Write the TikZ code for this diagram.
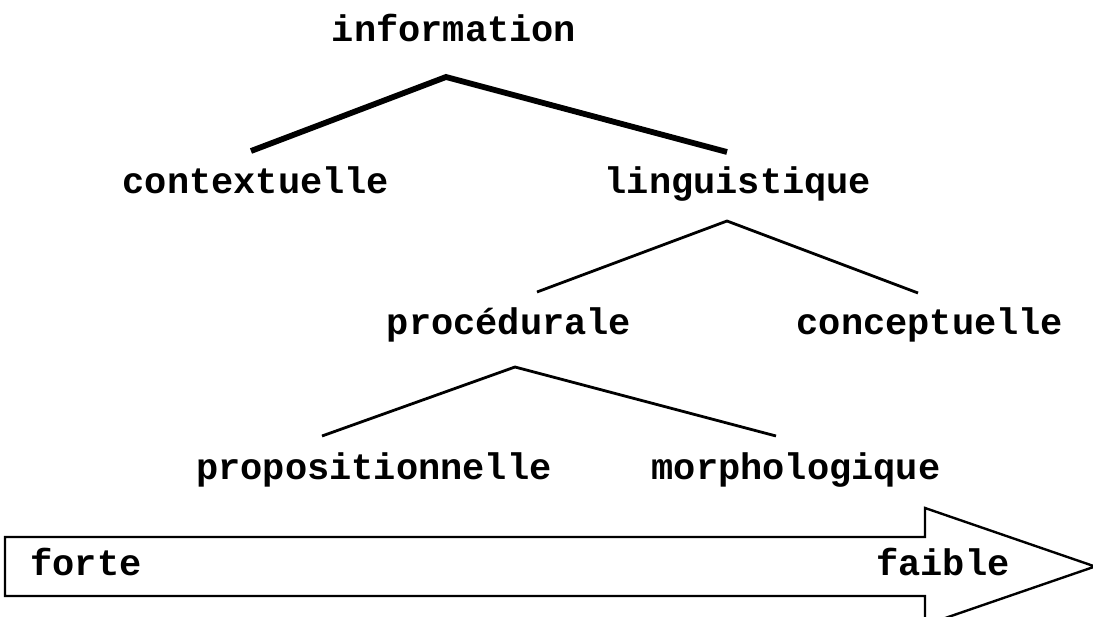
\documentclass[tikz,border=0pt]{standalone}
\usepackage{fontspec}
\setmonofont{Liberation Mono}
\begin{document}
\begin{tikzpicture}[x=1pt,y=-1pt,
  term/.style={font=\fontsize{37}{40}\selectfont\ttfamily\bfseries, inner sep=0pt, anchor=base},
  thickbranch/.style={line width=5.8pt},
  thinbranch/.style={line width=2.8pt},
  scale arrow/.style={draw=black, line width=2.4pt, fill=white, line join=miter}]
\useasboundingbox (0,0) rectangle (1093,617);
\clip (0,0) rectangle (1093,617);

% tree labels
\node[term] (info) at (454,42) {information};
\node[term] (ctx)  at (256,194) {contextuelle};
\node[term] (ling) at (738,194) {linguistique};
\node[term] (proc) at (509,335) {procédurale};
\node[term] (conc) at (930,335) {conceptuelle};
\node[term] (prop) at (374,480) {propositionnelle};
\node[term] (morph) at (796,480) {morphologique};

% branch end points
\coordinate (infoJ) at (446,77);
\coordinate (ctxT)  at (251,151);
\coordinate (lingT) at (727,152);
\coordinate (lingJ) at (727,221);
\coordinate (procT) at (537,292);
\coordinate (concT) at (918,293);
\coordinate (procJ) at (515,367);
\coordinate (propT) at (322,436);
\coordinate (morphT) at (776,436);

\draw[thickbranch] (ctxT) -- (infoJ) -- (lingT);
\draw[thinbranch] (procT) -- (lingJ) -- (concT);
\draw[thinbranch] (propT) -- (procJ) -- (morphT);

% scale arrow
\draw[scale arrow] (5,537) -- (925,537) -- (925,508) -- (1095,566.5)
  -- (925,625) -- (925,596) -- (5,596) -- cycle;
\node[term] (forte)  at (86,575) {forte};
\node[term] (faible) at (943,575) {faible};
\end{tikzpicture}
\end{document}
